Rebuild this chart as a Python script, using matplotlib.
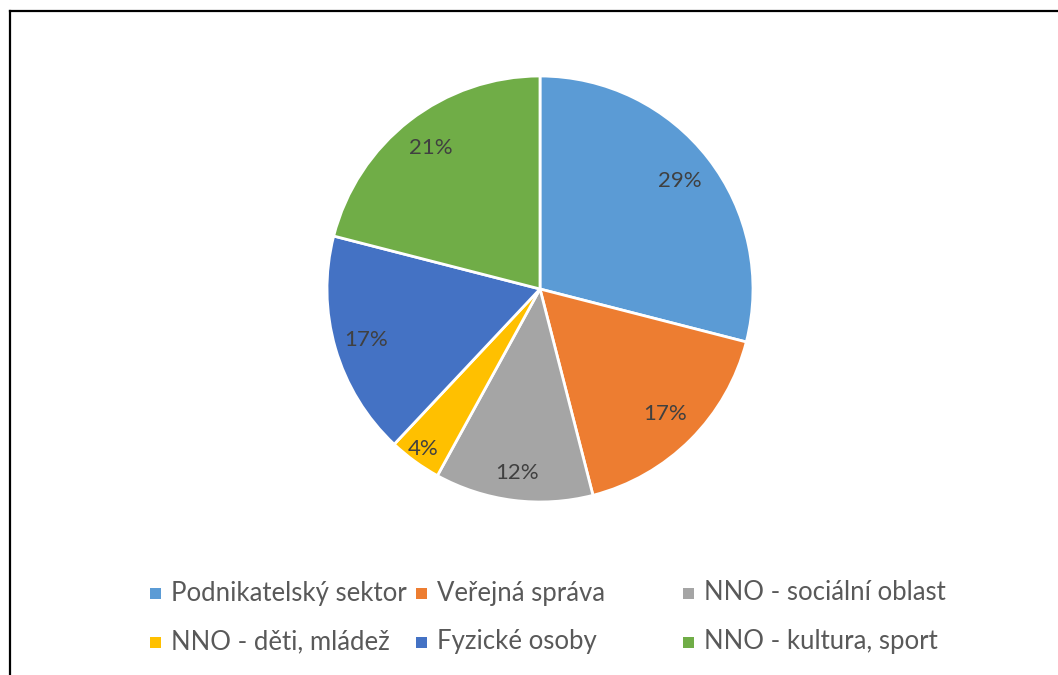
import numpy as np
import matplotlib
matplotlib.use("Agg")
from matplotlib import pyplot as plt
from matplotlib.patches import Rectangle
from matplotlib.lines import Line2D

plt.rcParams['font.family'] = ['Lato', 'DejaVu Sans']

# data
categories = ["Podnikatelský sektor", "Veřejná správa", "NNO - sociální oblast",
              "NNO - děti, mládež", "Fyzické osoby", "NNO - kultura, sport"]
shares = [29, 17, 12, 4, 17, 21]
colors = ["#5B9BD5", "#ED7D31", "#A5A5A5", "#FFC000", "#4472C4", "#70AD47"]

W, H = 1058, 675
fig = plt.figure(figsize=(W / 100, H / 100), dpi=100)
fig.patch.set_facecolor("white")

# frame (top and left edges visible)
fig.add_artist(Line2D([10 / W, 1], [1 - 11 / H, 1 - 11 / H], color="black", lw=1.6,
                      transform=fig.transFigure))
fig.add_artist(Line2D([10 / W, 10 / W], [0, 1 - 11 / H], color="black", lw=1.6,
                      transform=fig.transFigure))

# pie
cx, cy, r = 540, 289, 213
ax = fig.add_axes([(cx - r) / W, (H - cy - r) / H, 2 * r / W, 2 * r / H])
wedges, _ = ax.pie(shares, colors=colors, startangle=90, counterclock=False,
                   radius=1, wedgeprops=dict(edgecolor="white", linewidth=2))
ax.set_xlim(-1, 1)
ax.set_ylim(-1, 1)
ax.set_aspect("equal")
ax.axis("off")

# percentage labels
label_dist = [0.83, 0.83, 0.87, 0.93, 0.85, 0.84]
for w, v, d in zip(wedges, shares, label_dist):
    ang = np.deg2rad((w.theta1 + w.theta2) / 2)
    ax.text(d * np.cos(ang), d * np.sin(ang), f"{v}%", ha="center", va="center",
            fontsize=16, color="#404040")

# legend laid out in a fixed 3-column grid
col_x = [155, 421, 688]
row_y = [593, 642]
for i, (name, c) in enumerate(zip(categories, colors)):
    x = col_x[i % 3]
    y = row_y[i // 3]
    fig.add_artist(Rectangle(((x - 5.5) / W, 1 - (y + 5.5) / H), 11 / W, 11 / H,
                             facecolor=c, edgecolor="none", transform=fig.transFigure))
    fig.text((x + 16) / W, 1 - y / H, name, ha="left", va="center",
             fontsize=18.5, color="#595959")

fig.savefig("out.png", dpi=100)
